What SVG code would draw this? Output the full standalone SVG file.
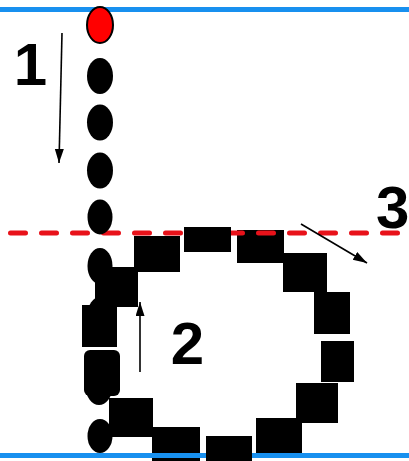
<svg xmlns="http://www.w3.org/2000/svg" width="409" height="461" viewBox="0 0 409 461">
<style>
.blue{stroke:#1890ef;stroke-width:5;fill:none}
.red{stroke:#e8121a;stroke-width:5;fill:none;stroke-dasharray:15 16;stroke-linecap:round}
.blk{fill:#000}
.sq{fill:#000}
.arr{stroke:#000;stroke-width:1.6;fill:none}
.lbl{font-family:"Liberation Sans",Arial,sans-serif;font-weight:bold;font-size:60px;fill:#000}
</style>
<defs>
<marker id="ah" markerUnits="userSpaceOnUse" markerWidth="15" markerHeight="10" refX="14" refY="4.5" orient="auto">
<path d="M0,0 L14,4.5 L0,9 z" fill="#000"/>
</marker>
</defs>
<rect width="409" height="461" fill="#fff"/>
<g id="top-line"><line class="blue" x1="0" y1="9.5" x2="409" y2="9.5"/></g>
<g id="sq3"><rect class="sq" x="237" y="230" width="47" height="33"/></g>
<g id="sq1"><rect class="sq" x="134" y="236" width="46" height="36"/></g>
<g id="red-line"><line class="red" x1="10.5" y1="233" x2="404" y2="233"/></g>
<g id="ball0"><ellipse cx="100" cy="25" rx="13" ry="18" fill="#ff0000" stroke="#000" stroke-width="2"/></g>
<g id="ball1"><ellipse class="blk" cx="100" cy="76" rx="13" ry="18"/></g>
<g id="ball2"><ellipse class="blk" cx="100" cy="122.5" rx="13" ry="18"/></g>
<g id="ball3"><ellipse class="blk" cx="100" cy="170.5" rx="13" ry="18"/></g>
<g id="ball4"><ellipse class="blk" cx="100" cy="217" rx="12.5" ry="17.5"/></g>
<g id="ball5"><ellipse class="blk" cx="100" cy="266" rx="12.5" ry="18"/></g>
<g id="ball6"><ellipse class="blk" cx="100" cy="315" rx="12.5" ry="18"/></g>
<g id="sq2"><rect class="sq" x="184" y="227" width="47" height="25"/></g>
<g id="sq4"><rect class="sq" x="283" y="253" width="44" height="39"/></g>
<g id="sq5"><rect class="sq" x="314" y="292" width="36" height="42"/></g>
<g id="sq6"><rect class="sq" x="321" y="341" width="33" height="41"/></g>
<g id="sq7"><rect class="sq" x="296" y="383" width="42" height="40"/></g>
<g id="sq8"><rect class="sq" x="256" y="418" width="46" height="35"/></g>
<g id="sq12"><rect class="sq" x="95" y="267" width="43" height="40"/></g>
<g id="sqB"><rect class="sq" x="82" y="305" width="35" height="42"/></g>
<g id="sqC"><rect class="sq" x="84" y="350" width="36" height="46" rx="6"/><ellipse class="blk" cx="99" cy="388" rx="13" ry="17"/></g>
<g id="sq11"><rect class="sq" x="109" y="398" width="44" height="39"/></g>
<g id="ball7"><ellipse class="blk" cx="100" cy="436" rx="12.5" ry="17"/></g>
<g id="sq10"><rect class="sq" x="152" y="427" width="48" height="35"/></g>
<g id="bottom-line"><line class="blue" x1="0" y1="455.5" x2="409" y2="455.5"/></g>
<g id="sq9"><rect class="sq" x="206" y="436" width="46" height="26"/></g>
<g id="connectors">
<line class="arr" x1="62" y1="33" x2="59" y2="163" marker-end="url(#ah)"/>
<line class="arr" x1="140" y1="372" x2="140" y2="302" marker-end="url(#ah)"/>
<line class="arr" x1="301" y1="224" x2="367" y2="263" marker-end="url(#ah)"/>
</g>
<g id="labels">
<text class="lbl" x="30.5" y="85" text-anchor="middle">1</text>
<text class="lbl" x="187.5" y="364" text-anchor="middle" font-size="58">2</text>
<text class="lbl" x="376" y="228">3</text>
</g>
</svg>
